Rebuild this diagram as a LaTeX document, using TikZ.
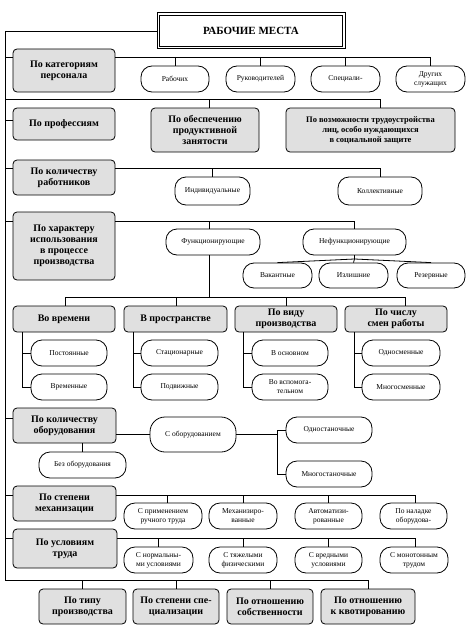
\documentclass[tikz,border=0pt]{standalone}
\usepackage{fontspec}
\setmainfont{Liberation Serif}
\begin{document}
\begin{tikzpicture}[x=1pt,y=-1pt,line width=0.8pt,
  cat/.style={draw,rounded corners=4pt,fill=black!12,inner sep=0pt,align=center,
    font=\bfseries\fontsize{10}{11}\selectfont},
  catsm/.style={cat,font=\bfseries\fontsize{8.5}{10}\selectfont},
  ov/.style={draw,rounded corners=11pt,fill=white,inner sep=0pt,align=center,
    font=\fontsize{7.5}{9}\selectfont},
  ovbig/.style={ov,rounded corners=15pt},
  ttl/.style={draw,line width=1pt,fill=white,inner sep=0pt,
    font=\bfseries\fontsize{11}{12}\selectfont}]
\useasboundingbox (0,0) rectangle (474,634);
\fill[white] (0,0) rectangle (474,634);

% ---------- nodes ----------
\node[ttl,minimum width=188pt,minimum height=36pt] (title) at (251,31) {РАБОЧИЕ МЕСТА};
\draw[line width=0.8pt] ([shift={(3,3)}]title.north west) rectangle ([shift={(-3,-3)}]title.south east);

\node[cat,minimum width=102pt,minimum height=43pt] (c1) at (64,70.5) {По категориям\\персонала};
\node[ov,minimum width=68pt,minimum height=26pt] (o11) at (175,79) {Рабочих};
\node[ov,minimum width=69pt,minimum height=26pt] (o12) at (260.5,79) {Руководителей};
\node[ov,minimum width=69pt,minimum height=26pt] (o13) at (345.5,79) {Специали-};
\node[ov,minimum width=69pt,minimum height=26pt] (o14) at (430.5,79) {Других\\служащих};

\node[cat,minimum width=102pt,minimum height=32pt] (c2) at (64,124) {По профессиям};
\node[cat,minimum width=108pt,minimum height=44pt] (c3) at (205,130) {По обеспечению\\продуктивной\\занятости};
\node[catsm,minimum width=169pt,minimum height=44pt] (c4) at (370.5,130) {По возможности трудоустройства\\лиц, особо нуждающихся\\в социальной защите};

\node[cat,minimum width=102pt,minimum height=35pt] (c5) at (64,177.5) {По количеству\\работников};
\node[ov,minimum width=75pt,minimum height=28pt] (o31) at (212.5,191) {Индивидуальные};
\node[ov,minimum width=84pt,minimum height=28pt] (o32) at (380,191) {Коллективные};

\node[cat,minimum width=102pt,minimum height=68pt] (c6) at (64,246) {По характеру\\использования\\в процессе\\производства};
\node[ov,minimum width=94pt,minimum height=26pt] (o41) at (213,242) {Функционирующие};
\node[ov,minimum width=103pt,minimum height=26pt] (o42) at (354.5,242) {Нефункционирующие};
\node[ov,minimum width=69pt,minimum height=25pt] (o43) at (277.5,275.5) {Вакантные};
\node[ov,minimum width=69pt,minimum height=25pt] (o44) at (353.5,275.5) {Излишние};
\node[ov,minimum width=68pt,minimum height=25pt] (o45) at (431,275.5) {Резервные};

\node[cat,minimum width=102pt,minimum height=26pt] (c7) at (64,319) {Во времени};
\node[cat,minimum width=103pt,minimum height=26pt] (c8) at (175.5,319) {В пространстве};
\node[cat,minimum width=102pt,minimum height=26pt] (c9) at (286,319) {По виду\\производства};
\node[cat,minimum width=102pt,minimum height=26pt] (c10) at (396,319) {По числу\\смен работы};

\node[ov,minimum width=76pt,minimum height=26pt] (o51) at (69,353) {Постоянные};
\node[ov,minimum width=76pt,minimum height=26pt] (o52) at (69,387) {Временные};
\node[ov,minimum width=77pt,minimum height=26pt] (o53) at (179.5,353) {Стационарные};
\node[ov,minimum width=77pt,minimum height=26pt] (o54) at (179.5,387) {Подвижные};
\node[ov,minimum width=76pt,minimum height=26pt] (o55) at (290,353) {В основном};
\node[ov,minimum width=76pt,minimum height=26pt] (o56) at (290,387) {Во вспомога-\\тельном};
\node[ov,minimum width=78pt,minimum height=26pt] (o57) at (401,353) {Односменные};
\node[ov,minimum width=78pt,minimum height=26pt] (o58) at (401,387) {Многосменные};

\node[cat,minimum width=103pt,minimum height=35pt] (c11) at (64.5,425.5) {По количеству\\оборудования};
\node[ovbig,minimum width=86pt,minimum height=35pt] (o61) at (193,434.5) {С оборудованием};
\node[ov,minimum width=86pt,minimum height=26pt] (o62) at (329,430) {Одностаночные};
\node[ov,minimum width=86pt,minimum height=26pt] (o63) at (329,474) {Многостаночные};
\node[ov,minimum width=87pt,minimum height=26pt] (o64) at (82.5,465) {Без оборудования};

\node[cat,minimum width=103pt,minimum height=35pt] (c12) at (64.5,503.5) {По степени\\механизации};
\node[ov,minimum width=78pt,minimum height=26pt] (o71) at (163,516) {С применением\\ручного труда};
\node[ov,minimum width=68pt,minimum height=26pt] (o72) at (243,516) {Механизиро-\\ванные};
\node[ov,minimum width=67pt,minimum height=26pt] (o73) at (328.5,516) {Автоматизи-\\рованные};
\node[ov,minimum width=67pt,minimum height=26pt] (o74) at (413.5,516) {По наладке\\оборудова-};

\node[cat,minimum width=104pt,minimum height=39pt] (c13) at (65,548.5) {По условиям\\труда};
\node[ov,minimum width=69pt,minimum height=26pt] (o81) at (158.5,560) {С нормальны-\\ми условиями};
\node[ov,minimum width=68pt,minimum height=26pt] (o82) at (243,560) {С тяжелыми\\физическими};
\node[ov,minimum width=67pt,minimum height=26pt] (o83) at (328.5,560) {С вредными\\условиями};
\node[ov,minimum width=68pt,minimum height=26pt] (o84) at (414,560) {С монотонным\\трудом};

\node[cat,minimum width=87pt,minimum height=35pt] (b1) at (82.5,606.5) {По типу\\производства};
\node[cat,minimum width=86pt,minimum height=35pt] (b2) at (176,606.5) {По степени спе-\\циализации};
\node[cat,minimum width=86pt,minimum height=35pt] (b3) at (270,606.5) {По отношению\\собственности};
\node[cat,minimum width=94pt,minimum height=35pt] (b4) at (368,606.5) {По отношению\\к квотированию};

% ---------- spine ----------
\coordinate (sp0) at (5,31);
\coordinate (sp9) at (5,580);
\coordinate (bot) at (368,580);
\draw (title.west) -- (sp0) -- (sp9) -- (bot);

% row 1
\coordinate (s1) at (5,57);
\coordinate (e1) at (430.5,57);
\draw (s1) -- (s1 -| c1.west);
\draw (c1.east |- s1) -- (e1);
\foreach \n in {o11,o12,o13,o14} \draw (\n.north |- e1) -- (\n.north);

% row 2
\coordinate (s2) at (5,99);
\coordinate (e2) at (380,99);
\coordinate (d2) at (209,99);
\draw (s2) -- (e2);
\draw (d2) -- (d2 |- c3.north);
\draw (e2) -- (e2 |- c4.north);
\coordinate (t2) at (5,120);
\draw (t2) -- (t2 -| c2.west);

% row 3
\coordinate (s3) at (5,168);
\coordinate (e3) at (380,168);
\draw (s3) -- (s3 -| c5.west);
\draw (c5.east |- s3) -- (e3);
\draw (o31.north |- s3) -- (o31.north);
\draw (e3) -- (o32.north);

% row 4
\coordinate (s4) at (5,221);
\coordinate (e4) at (354.5,221);
\draw (s4) -- (s4 -| c6.west);
\draw (c6.east |- s4) -- (e4);
\coordinate (d4) at (209,221);
\draw (d4) -- (d4 |- o41.north);
\draw (e4) -- (o42.north);
\coordinate (fan) at (354.5,259);
\draw (o42.south) -- (fan);
\draw (fan) -- (o43.north);
\draw (fan) -- (o44.north);
\draw (fan) -- (o45.north);

% functioning branch
\coordinate (f0) at (209,255);
\coordinate (f1) at (209,297);
\coordinate (h0) at (65,297);
\coordinate (h1) at (405,297);
\draw (f0) -- (f1);
\draw (h0) -- (h1);
\draw (h0) -- (h0 |- c7.north);
\coordinate (h2) at (176,297);
\coordinate (h3) at (286,297);
\draw (h2) -- (h2 |- c8.north);
\draw (h3) -- (h3 |- c9.north);
\draw (h1) -- (h1 |- c10.north);

% sub lists
\foreach \b/\u/\l/\x in {c7/o51/o52/22,c8/o53/o54/133,c9/o55/o56/243,c10/o57/o58/354}{
  \draw (\b.south -| \x,0) -- (\l.west -| \x,0) -- (\l.west);
  \draw (\u.west -| \x,0) -- (\u.west);
}

% row 6
\coordinate (s6) at (5,418);
\draw (s6) -- (s6 -| c11.west);
\draw (c11.east |- o61.west) -- (o61.west);
\coordinate (v6) at (277,434.5);
\draw (o61.east) -- (v6);
\draw (o62.west -| v6) -- (o63.west -| v6);
\draw (o62.west -| v6) -- (o62.west);
\draw (o63.west -| v6) -- (o63.west);
\draw (c11.south -| o64.north) -- (o64.north);

% row 7
\coordinate (s7) at (5,495);
\coordinate (e7) at (415,495);
\draw (s7) -- (s7 -| c12.west);
\draw (c12.east |- s7) -- (e7);
\foreach \n/\x in {o71/167,o72/243,o73/328,o74/415} \draw (\x,495) -- (\x,0 |- \n.north);

% row 8
\coordinate (s8) at (5,538);
\coordinate (e8) at (415,538);
\draw (s8) -- (s8 -| c13.west);
\draw (c13.east |- s8) -- (e8);
\foreach \n/\x in {o81/158,o82/243,o83/328,o84/415} \draw (\x,538) -- (\x,0 |- \n.north);

% bottom
\foreach \n in {b1,b2,b3,b4} \draw (\n.north |- bot) -- (\n.north);
\end{tikzpicture}
\end{document}
